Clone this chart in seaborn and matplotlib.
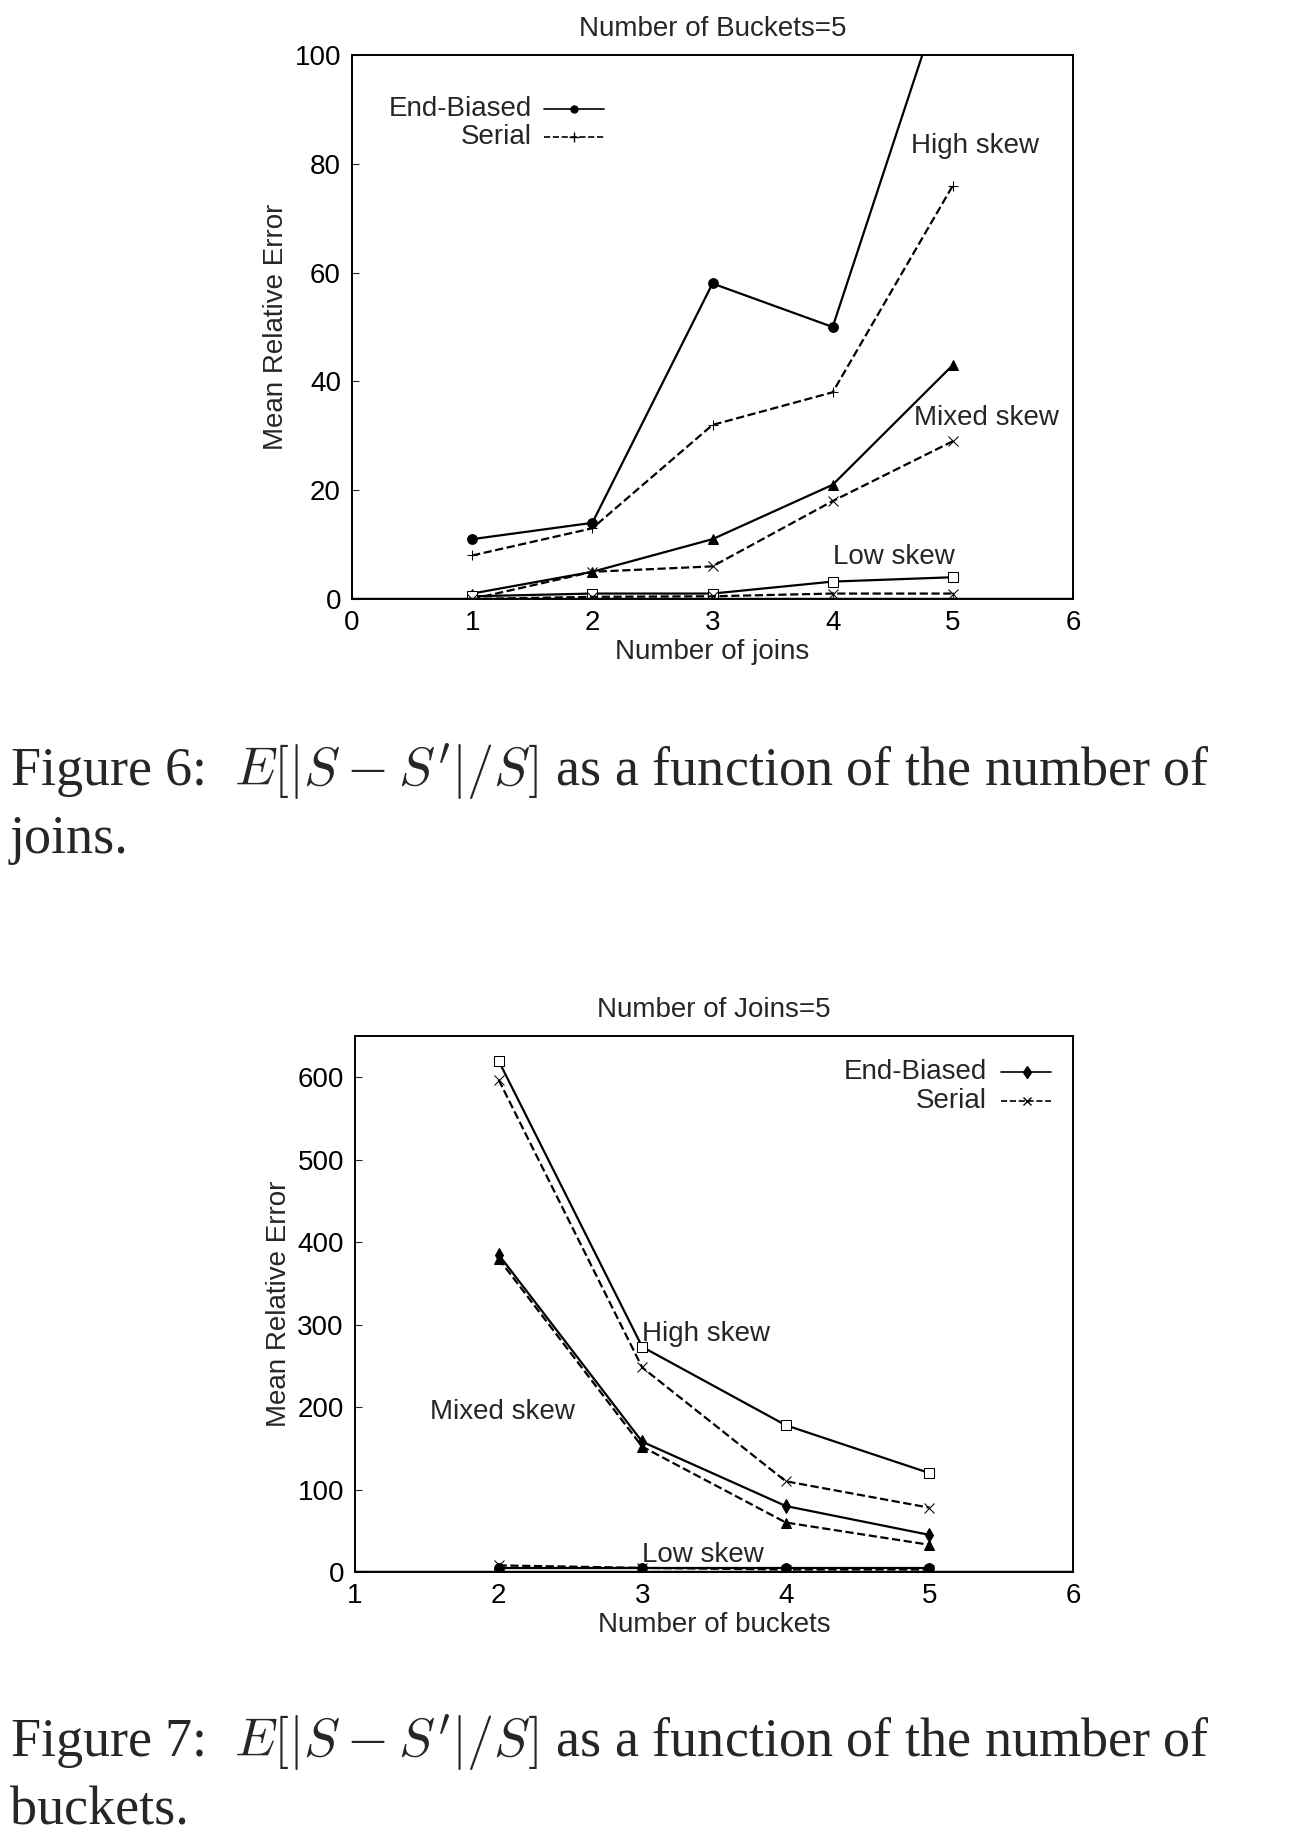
import numpy as np
import pandas as pd
import seaborn as sns
from matplotlib import pyplot as plt

# Figure 6: error vs number of joins (buckets=5)
joins = [1, 2, 3, 4, 5]
high_eb_j = [11, 14, 58, 50, 117]
high_se_j = [8, 13, 32, 38, 76]
mixed_eb_j = [1, 5, 11, 21, 43]
mixed_se_j = [0, 5, 6, 18, 29]
low_eb_j = [0.5, 1, 1, 3.2, 4]
low_se_j = [0, 0.4, 0.5, 1, 1]

# Figure 7: error vs number of buckets (joins=5)
buckets = [2, 3, 4, 5]
high_eb_b = [620, 273, 178, 120]
high_se_b = [597, 248, 110, 78]
mixed_eb_b = [385, 158, 80, 45]
mixed_se_b = [380, 152, 60, 33]
low_eb_b = [5, 5, 5, 5]
low_se_b = [8, 5, 3, 3]

sns.set_style('white')
plt.rcParams['font.family'] = ['Liberation Sans', 'DejaVu Sans']
plt.rcParams['mathtext.fontset'] = 'cm'

fig = plt.figure(figsize=(12.98, 18.44), dpi=100)
ax1 = fig.add_axes([352 / 1298, 1 - 599 / 1844, 721 / 1298, 544 / 1844])
ax2 = fig.add_axes([355 / 1298, 1 - 1572 / 1844, 718 / 1298, 536 / 1844])

FS = 20


def draw(ax, x, series):
    for y, style, marker in series:
        df = pd.DataFrame({'x': x, 'y': y})
        sns.lineplot(data=df, x='x', y='y', ax=ax, color='black', linestyle=style,
                     marker=marker, markersize=7, linewidth=1.6, mfc='black',
                     mec='black', clip_on=True)


draw(ax1, joins, [
    (high_eb_j, '-', 'o'), (high_se_j, '--', '+'),
    (mixed_eb_j, '-', '^'), (mixed_se_j, '--', 'x'),
    (low_eb_j, '-', 's'), (low_se_j, '--', 'x'),
])
draw(ax2, buckets, [
    (high_eb_b, '-', 's'), (high_se_b, '--', 'x'),
    (mixed_eb_b, '-', 'd'), (mixed_se_b, '--', '^'),
    (low_eb_b, '-', 'o'), (low_se_b, '--', 'x'),
])
for l in ax1.lines[4:5] + ax2.lines[0:1]:
    l.set_markerfacecolor('white')

ax1.set_xlim(0, 6)
ax1.set_ylim(0, 100)
ax1.set_yticks([0, 20, 40, 60, 80, 100])
ax1.set_xlabel('Number of joins', fontsize=FS, labelpad=2)
ax1.set_title('Number of Buckets=5', fontsize=FS, pad=14)
ax1.text(4.65, 82, 'High skew', fontsize=FS)
ax1.text(4.68, 32, 'Mixed skew', fontsize=FS)
ax1.text(4.0, 6.5, 'Low skew', fontsize=FS)
ax1.plot([1.6, 2.1], [90, 90], color='black', lw=1.2, marker='o', markevery=[1], ms=5)
ax1.plot([1.6, 2.1], [85, 85], color='black', lw=1.2, ls='--', marker='+', markevery=[1], ms=7)
ax1.lines[-2].set_data([1.6, 1.85, 2.1], [90, 90, 90])
ax1.lines[-1].set_data([1.6, 1.85, 2.1], [85, 85, 85])
ax1.text(1.5, 90, 'End-Biased', fontsize=FS, ha='right', va='center')
ax1.text(1.5, 85, 'Serial', fontsize=FS, ha='right', va='center')

ax2.set_xlim(1, 6)
ax2.set_ylim(0, 650)
ax2.set_yticks([0, 100, 200, 300, 400, 500, 600])
ax2.set_xlabel('Number of buckets', fontsize=FS, labelpad=2)
ax2.set_title('Number of Joins=5', fontsize=FS, pad=14)
ax2.text(3.0, 280, 'High skew', fontsize=FS)
ax2.text(1.52, 186, 'Mixed skew', fontsize=FS)
ax2.text(3.0, 12, 'Low skew', fontsize=FS)
ax2.plot([5.5, 5.68, 5.85], [606] * 3, color='black', lw=1.2, marker='d', markevery=[1], ms=6)
ax2.plot([5.5, 5.68, 5.85], [571] * 3, color='black', lw=1.2, ls='--', marker='x', markevery=[1], ms=6)
ax2.text(5.4, 606, 'End-Biased', fontsize=FS, ha='right', va='center')
ax2.text(5.4, 571, 'Serial', fontsize=FS, ha='right', va='center')

for ax in (ax1, ax2):
    ax.set_ylabel('Mean Relative Error', fontsize=FS)
    ax.tick_params(labelsize=FS, direction='in', length=5, pad=8,
                   left=True, bottom=True, labelcolor='black')
    ax.axhline(0, color='black', lw=2.5)
    for s in ax.spines.values():
        s.set_color('black')
        s.set_linewidth(1.4)

serif = ['Liberation Serif', 'DejaVu Serif']
CF = 39
fig.text(10 / 1298, 1 - 772 / 1844,
         r"Figure 6:  $E[|S-S'|/S]$ as a function of the number of",
         fontsize=CF, family=serif, va='center')
fig.text(10 / 1298, 1 - 840 / 1844, 'joins.', fontsize=CF, family=serif, va='center')
fig.text(10 / 1298, 1 - 1743 / 1844,
         r"Figure 7:  $E[|S-S'|/S]$ as a function of the number of",
         fontsize=CF, family=serif, va='center')
fig.text(10 / 1298, 1 - 1811 / 1844, 'buckets.', fontsize=CF, family=serif, va='center')

fig.savefig('out.png', dpi=100)
